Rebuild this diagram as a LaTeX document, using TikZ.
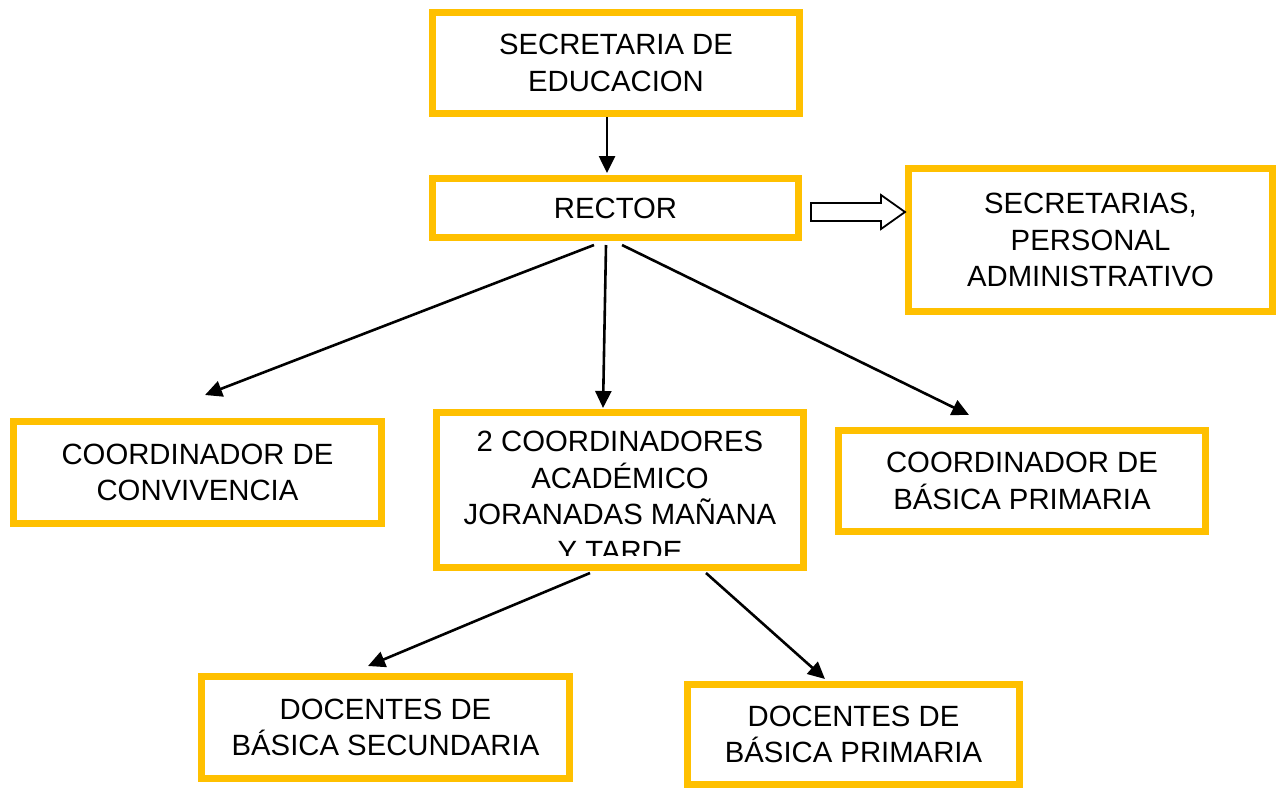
\documentclass[tikz,border=0pt]{standalone}
\usepackage{fontspec}
\setmainfont{Liberation Sans}
\usetikzlibrary{calc,arrows.meta}
\definecolor{gold}{HTML}{FFC000}
\begin{document}
\begin{tikzpicture}[x=1pt,y=-1pt,
  box/.style={draw=gold, line width=7pt, fill=white, inner sep=0pt, align=center,
    font=\fontsize{29.3}{36.5}\selectfont},
  txt/.style={inner sep=0pt, align=center, font=\fontsize{29.3}{36.5}\selectfont},
  link/.style={line width=2.6pt, -{Triangle[length=17pt,width=16pt]}},
  hollow/.style={draw=black, line width=1.8pt, fill=white, line join=miter}
]
\useasboundingbox[fill=white] (0,0) rectangle (1276,788);

\node[box, minimum width=367pt, minimum height=101pt] (sec) at (616,63) {SECRETARIA DE\\EDUCACION};
\node[box, minimum width=366pt, minimum height=59pt] (rector) at (615.5,208) {RECTOR};
\node[box, minimum width=364pt, minimum height=143pt] (admin) at (1090.5,240) {SECRETARIAS,\\PERSONAL\\ADMINISTRATIVO};
\node[box, minimum width=368pt, minimum height=102pt] (conv) at (197.5,472.5) {COORDINADOR DE\\CONVIVENCIA};
\node[box, minimum width=367pt, minimum height=155pt] (coord) at (620,490) {};
\begin{scope}
  \clip (440,416) rectangle (800,555);
  \node[txt, anchor=north] (coordtxt) at (620,431) {2 COORDINADORES\\ACADÉMICO\\JORANADAS MAÑANA\\Y TARDE};
\end{scope}
\node[box, minimum width=367pt, minimum height=101pt] (basica) at (1022,481) {COORDINADOR DE\\BÁSICA PRIMARIA};
\node[box, minimum width=368pt, minimum height=102pt] (docsec) at (385.5,727.5) {DOCENTES DE\\BÁSICA SECUNDARIA};
\node[box, minimum width=332pt, minimum height=100pt] (docprim) at (853.5,734.5) {DOCENTES DE\\BÁSICA PRIMARIA};

\draw[link] ($(sec.south)+(-9,0)$) -- ($(rector.north)+(-8.5,-2)$);
\draw[link] ($(rector.south)+(-21.5,4)$) -- ($(conv.north)+(7.5,-23)$);
\draw[link] ($(rector.south)+(-9.5,4)$) -- ($(coord.north)+(-17,-1)$);
\draw[link] ($(rector.south)+(6.5,4)$) -- ($(basica.north)+(-53,-12)$);
\draw[link] ($(coord.south)+(-30,2)$) -- ($(docsec.north)+(-17.5,-7)$);
\draw[link] ($(coord.south)+(86,2)$) -- ($(docprim.north)+(-28.5,-2)$);

\draw[hollow] ($(rector.east)+(9,-5)$) -- ++(70,0) -- ++(0,-8) -- ++(24,17)
  -- ++(-24,17) -- ++(0,-8) -- ++(-70,0) -- cycle;
\end{tikzpicture}
\end{document}
